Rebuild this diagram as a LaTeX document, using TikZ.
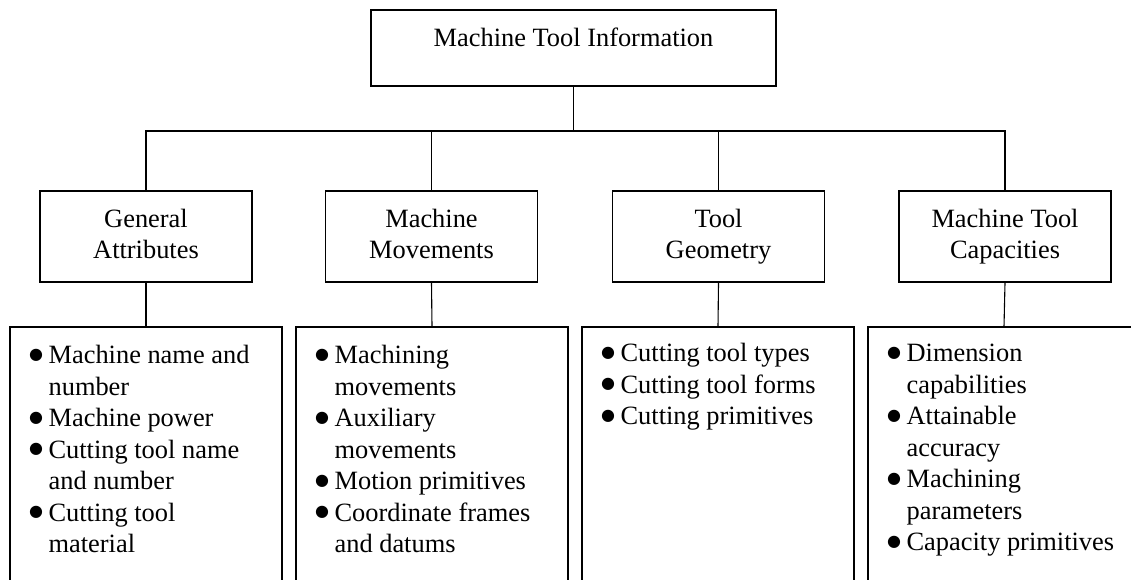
\documentclass[tikz,border=0pt]{standalone}
\usepackage{fontspec}
\setmainfont{Liberation Serif}
\newfontfamily\dotfont{DejaVu Sans}
\usepackage{array}
\usetikzlibrary{calc}
\begin{document}
\begin{tikzpicture}[x=1pt,y=-1pt,
  frame/.style={draw=black, line width=1.2pt, rectangle, inner sep=0pt},
  catbox/.style={frame, minimum width=212pt, minimum height=91pt, align=center},
  listbox/.style={frame, minimum width=272pt, minimum height=293pt},
  txt/.style={inner sep=0pt, font=\fontsize{26.4}{31.5}\selectfont},
  wire/.style={draw=black, line width=1.1pt}]
\useasboundingbox (0,0) rectangle (1131,579);
\clip (0,0) rectangle (1131,579);

% root
\node[frame, minimum width=405pt, minimum height=76pt] (root) at (573.5,48) {};
\node[txt, anchor=base] (roottext) at (573.5,46) {Machine Tool Information};

% categories
\node[catbox, txt] (c1) at (146,236.5) {\strut General\\Attributes\strut};
\node[catbox, txt] (c2) at (431.5,236.5) {\strut Machine\\Movements\strut};
\node[catbox, txt] (c3) at (718.5,236.5) {\strut Tool\\Geometry\strut};
\node[catbox, txt] (c4) at (1005,236.5) {\strut Machine Tool\\Capacities\strut};

% detail boxes (run past the lower edge)
\node[listbox] (d1) at (146,473.5) {};
\node[listbox] (d2) at (432,473.5) {};
\node[listbox] (d3) at (718,473.5) {};
\node[listbox] (d4) at (1004,473.5) {};

% bus
\coordinate (bus) at (0,131);
\draw[wire] (root.south) -- (root.south |- bus);
\draw[wire] (c1.north) -- (c1.north |- bus) -- (c4.north |- bus) -- (c4.north);
\draw[wire] (c2.north |- bus) -- (c2.north);
\draw[wire] (c3.north |- bus) -- (c3.north);
\foreach \i in {1,2,3,4}{\draw[wire] (c\i.south) -- (d\i.north);}

% bullet lists: a fixed-width bullet column, then the item text
\newcommand{\bul}{\makebox[0pt][l]{\hspace*{-1.5pt}\dotfont\fontsize{16}{16}\selectfont\raisebox{4.2pt}{●}}}
\newcommand{\blist}[1]{\begin{tabular}{@{}p{18pt}@{}l@{}}#1\end{tabular}}
\node[txt, anchor=north west] (l1) at ($(d1.north west)+(21,15)$)
  {\blist{\bul & Machine name and\\ & number\\ \bul & Machine power\\
   \bul & Cutting tool name\\ & and number\\ \bul & Cutting tool\\ & material}};
\node[txt, anchor=north west] (l2) at ($(d2.north west)+(21,15)$)
  {\blist{\bul & Machining\\ & movements\\ \bul & Auxiliary\\ & movements\\
   \bul & Motion primitives\\ \bul & Coordinate frames\\ & and datums}};
\node[txt, anchor=north west] (l3) at ($(d3.north west)+(21,13)$)
  {\blist{\bul & Cutting tool types\\ \bul & Cutting tool forms\\
   \bul & Cutting primitives}};
\node[txt, anchor=north west] (l4) at ($(d4.north west)+(21,13)$)
  {\blist{\bul & Dimension\\ & capabilities\\ \bul & Attainable\\ & accuracy\\
   \bul & Machining\\ & parameters\\ \bul & Capacity primitives}};
\end{tikzpicture}
\end{document}
